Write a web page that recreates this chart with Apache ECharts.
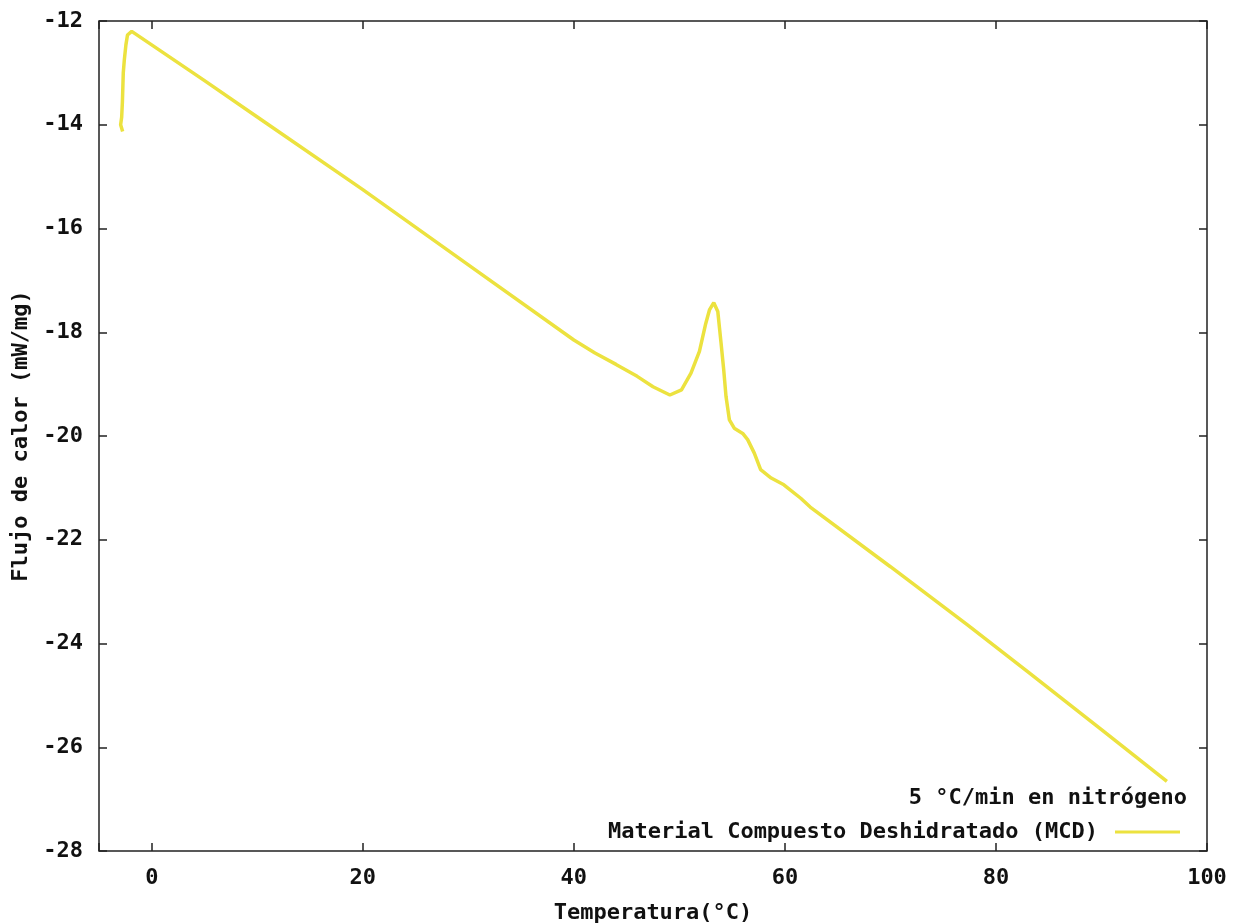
<!DOCTYPE html>
<html>
<head>
<meta charset="utf-8">
<script src="https://cdn.jsdelivr.net/npm/echarts@6/dist/echarts.min.js"></script>
<style>
  html, body { margin: 0; padding: 0; background: #ffffff; }
  #chart { width: 1236px; height: 924px; }
</style>
</head>
<body>
<div id="chart"></div>
<script>
// DSC scan, 5 °C/min under nitrogen
const temperatures = [
  -2.76, -2.95, -2.85, -2.78, -2.7, -2.6, -2.45, -2.3, -1.9,
  5, 10, 20, 30, 40, 42, 44, 46, 47.5, 49.1, 50.2, 51.1, 51.9,
  52.5, 52.85, 53.26, 53.64, 53.95, 54.2, 54.42, 54.74, 55.2, 56.0,
  56.47, 57.1, 57.7, 58.7, 59.9, 61.5, 62.4, 70, 77.3, 83, 90, 96.2
];
const heatFlow = [
  -14.13, -14.0, -13.85, -13.55, -13.0, -12.75, -12.46, -12.27, -12.2,
  -13.15, -13.85, -15.25, -16.7, -18.15, -18.4, -18.62, -18.85, -19.05, -19.21, -19.11, -18.79, -18.37,
  -17.83, -17.57, -17.43, -17.6, -18.21, -18.72, -19.24, -19.69, -19.85, -19.95,
  -20.07, -20.33, -20.65, -20.81, -20.94, -21.2, -21.37, -22.52, -23.64, -24.54, -25.66, -26.66
];
const xTickValues = [0, 20, 40, 60, 80, 100];
const seriesName = 'Material Compuesto Deshidratado (MCD)';
const subtitle = '5 °C/min en nitrógeno';
const xTitle = 'Temperatura(°C)';
const yTitle = 'Flujo de calor (mW/mg)';

const FONT = 'DejaVu Sans Mono';
const lineColor = '#ece23f';
const frameColor = '#222222';

const points = temperatures.map((t, i) => [t, heatFlow[i]]);

const txt = { fontFamily: FONT, fontWeight: 'bold', fontSize: 22, color: '#111111' };

const tickStyle = { show: true, inside: true, length: 8, lineStyle: { color: frameColor, width: 1.5 } };

const xCommon = {
  type: 'value', min: -5, max: 100, splitNumber: 5,
  axisLine: { show: false, onZero: false },
  axisTick: tickStyle,
  splitLine: { show: false }
};
const yCommon = {
  type: 'value', min: -28, max: -12, interval: 2,
  axisLine: { show: false, onZero: false },
  axisTick: tickStyle,
  splitLine: { show: false }
};

const chart = echarts.init(document.getElementById('chart'), null, { renderer: 'canvas' });
chart.setOption({
  animation: false,
  backgroundColor: '#ffffff',
  grid: {
    left: 99, right: 29, top: 21, bottom: 73,
    containLabel: false, outerBoundsMode: 'none',
    show: true, borderColor: frameColor, borderWidth: 1.5, backgroundColor: 'transparent'
  },
  title: {
    text: subtitle, right: 44, top: 782,
    textStyle: Object.assign({}, txt)
  },
  legend: {
    data: [{ name: seriesName, icon: 'rect' }],
    right: 51, top: 816, align: 'right',
    itemWidth: 65, itemHeight: 3,
    textStyle: Object.assign({ padding: [0, 12, 0, 0] }, txt)
  },
  xAxis: [
    Object.assign({}, xCommon, {
      position: 'bottom',
      name: xTitle, nameLocation: 'middle', nameGap: 51,
      nameTextStyle: Object.assign({}, txt),
      axisLabel: Object.assign({ margin: 16, formatter: v => (xTickValues.indexOf(v) >= 0 ? String(v) : '') }, txt)
    }),
    Object.assign({}, xCommon, { position: 'top', axisLabel: { show: false } })
  ],
  yAxis: [
    Object.assign({}, yCommon, {
      position: 'left',
      name: yTitle, nameLocation: 'middle', nameGap: 65,
      nameTextStyle: Object.assign({}, txt),
      axisLabel: Object.assign({ margin: 16 }, txt)
    }),
    Object.assign({}, yCommon, { position: 'right', axisLabel: { show: false } })
  ],
  series: [{
    name: seriesName,
    type: 'line',
    data: points,
    showSymbol: false,
    symbol: 'none',
    color: lineColor,
    lineStyle: { color: lineColor, width: 3.5 },
    smooth: false
  }]
});
</script>
</body>
</html>
